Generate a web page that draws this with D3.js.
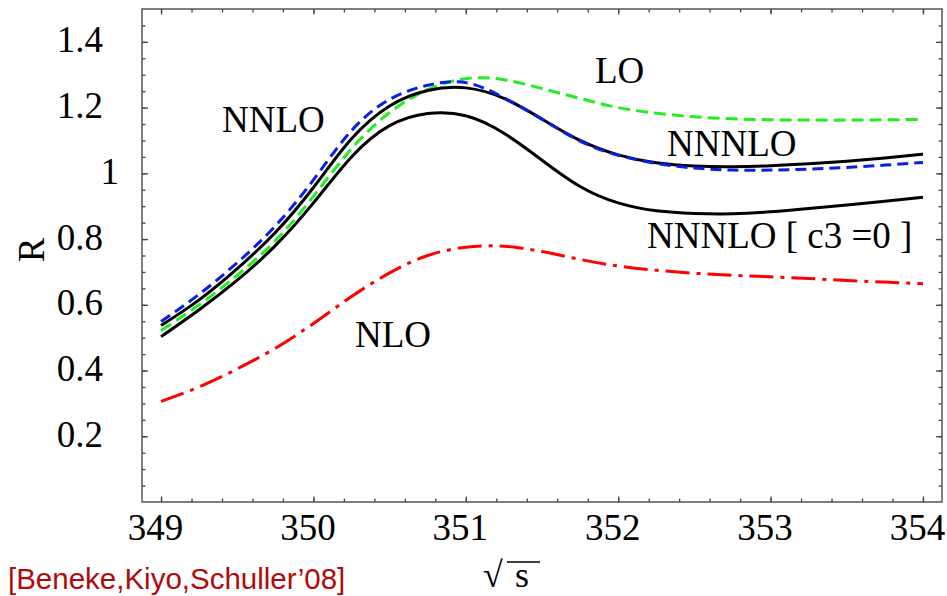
<!DOCTYPE html>
<html>
<head>
<meta charset="utf-8">
<script src="https://cdn.jsdelivr.net/npm/d3@7"></script>
<style>
  body { margin: 0; background: white; }
  svg { display: block; }
</style>
</head>
<body>
<svg id="chart" width="947" height="596"></svg>
<script>
// sqrt(s) grid and the R values
var sqrt_s = [349, 349.25, 349.5, 349.75, 350, 350.25, 350.5, 350.75, 351, 351.25, 351.5,
              351.75, 352, 352.25, 352.5, 352.75, 353, 353.25, 353.5, 353.75, 354];

var r_lo = [0.522, 0.6, 0.69, 0.795, 0.93, 1.075, 1.185, 1.255, 1.288, 1.285, 1.258,
            1.228, 1.2, 1.183, 1.172, 1.166, 1.163, 1.162, 1.162, 1.163, 1.164];
var r_nlo = [0.306, 0.35, 0.405, 0.468, 0.543, 0.625, 0.697, 0.75, 0.775, 0.778, 0.762,
             0.738, 0.718, 0.705, 0.696, 0.69, 0.685, 0.68, 0.674, 0.669, 0.664];
var r_nnlo = [0.549, 0.632, 0.728, 0.84, 0.98, 1.13, 1.225, 1.268, 1.276, 1.23, 1.165,
              1.098, 1.055, 1.03, 1.016, 1.01, 1.01, 1.013, 1.018, 1.025, 1.033];
var r_nnnlo = [0.537, 0.615, 0.71, 0.82, 0.957, 1.105, 1.205, 1.252, 1.26, 1.228, 1.165,
               1.1, 1.056, 1.032, 1.022, 1.02, 1.023, 1.029, 1.037, 1.047, 1.058];
var r_nnnlo_c3 = [0.503, 0.585, 0.675, 0.78, 0.91, 1.05, 1.145, 1.182, 1.175, 1.122, 1.04,
                  0.96, 0.91, 0.886, 0.878, 0.877, 0.883, 0.893, 0.904, 0.915, 0.927];

var x_major = [349, 350, 351, 352, 353, 354];
var y_major = [0.2, 0.4, 0.6, 0.8, 1, 1.2, 1.4];

var serif = "'Liberation Serif', 'Times New Roman', serif";

var svg = d3.select("#chart");

var x = d3.scaleLinear().domain([348.875, 354.125]).range([142, 942]);
var y = d3.scaleLinear().domain([0, 1.5]).range([502, 9]);

var x_minor = d3.range(349, 354.01, 0.2);
var y_minor = d3.range(0.05, 1.49, 0.05);

function styleAxis(g) {
  g.selectAll("path.domain").remove();
  g.selectAll("line").attr("stroke", "#444").attr("stroke-width", 1.3);
  g.selectAll("text")
    .style("font-family", serif)
    .style("font-size", "37px")
    .attr("fill", "black");
}

// bottom
svg.append("g").attr("transform", "translate(0,502)")
  .call(d3.axisBottom(x).tickValues(x_minor).tickSize(-3.5).tickFormat(""))
  .call(styleAxis);
svg.append("g").attr("transform", "translate(0,502)")
  .call(d3.axisBottom(x).tickValues(x_major).tickSize(-5.5).tickPadding(12).tickFormat(d3.format("d")))
  .call(styleAxis)
  .selectAll("text").attr("dx", -6);

// top
svg.append("g").attr("transform", "translate(0,9)")
  .call(d3.axisTop(x).tickValues(x_minor).tickSize(-3.5).tickFormat(""))
  .call(styleAxis);
svg.append("g").attr("transform", "translate(0,9)")
  .call(d3.axisTop(x).tickValues(x_major).tickSize(-5.5).tickFormat(""))
  .call(styleAxis);

// left
svg.append("g").attr("transform", "translate(142,0)")
  .call(d3.axisLeft(y).tickValues(y_minor).tickSize(-3.5).tickFormat(""))
  .call(styleAxis);
var left = svg.append("g").attr("transform", "translate(142,0)")
  .call(d3.axisLeft(y).tickValues(y_major).tickSize(-6).tickPadding(39)
    .tickFormat(function(d){ return d === 1 ? "1" : d3.format(".1f")(d); }))
  .call(styleAxis);
left.selectAll("text")
  .attr("dy", "0.27em")
  .attr("x", function(d){ return d === 1 ? -23 : -39; });

// right
svg.append("g").attr("transform", "translate(942,0)")
  .call(d3.axisRight(y).tickValues(y_minor).tickSize(-3.5).tickFormat(""))
  .call(styleAxis);
svg.append("g").attr("transform", "translate(942,0)")
  .call(d3.axisRight(y).tickValues(y_major).tickSize(-6).tickFormat(""))
  .call(styleAxis);

// frame
svg.append("rect")
  .attr("x", 142).attr("y", 9)
  .attr("width", 800).attr("height", 493)
  .attr("fill", "none")
  .attr("stroke", "#555")
  .attr("stroke-width", 1.5);

// curves
var curves = [
  {values: r_nlo, color: "#ff0000", dash: "24,7,4,7"},
  {values: r_lo, color: "#22ee22", dash: "12,6"},
  {values: r_nnnlo_c3, color: "black", dash: null},
  {values: r_nnnlo, color: "black", dash: null},
  {values: r_nnlo, color: "#0a1ee6", dash: "11,6"}
];

var line = d3.line()
  .x(function(d){ return x(d[0]); })
  .y(function(d){ return y(d[1]); })
  .curve(d3.curveNatural);

svg.append("g").attr("id", "curves")
  .selectAll("path")
  .data(curves)
  .enter()
  .append("path")
  .attr("d", function(d){
    return line(sqrt_s.map(function(s, i){ return [s, d.values[i]]; }));
  })
  .attr("fill", "none")
  .attr("stroke", function(d){ return d.color; })
  .attr("stroke-width", 3)
  .attr("stroke-dasharray", function(d){ return d.dash; });

// curve labels
var labels = [
  {text: "NNLO", x: 222, y: 132},
  {text: "LO", x: 595, y: 83},
  {text: "NNNLO", x: 667, y: 156},
  {text: "NNNLO [ c3 =0 ]", x: 647, y: 248},
  {text: "NLO", x: 355, y: 347}
];
svg.append("g").selectAll("text")
  .data(labels)
  .enter()
  .append("text")
  .attr("x", function(d){ return d.x; })
  .attr("y", function(d){ return d.y; })
  .text(function(d){ return d.text; })
  .style("font-family", serif)
  .style("font-size", "37px");

// axis titles
svg.append("text")
  .attr("transform", "translate(44,250) rotate(-90)")
  .attr("text-anchor", "middle")
  .style("font-family", serif)
  .style("font-size", "37px")
  .text("R");

svg.append("text")
  .attr("x", 483).attr("y", 587)
  .style("font-family", serif)
  .style("font-size", "36px")
  .text("\u221A");
svg.append("text")
  .attr("x", 515).attr("y", 587)
  .style("font-family", serif)
  .style("font-size", "36px")
  .text("s");
svg.append("line")
  .attr("x1", 507).attr("x2", 540)
  .attr("y1", 562).attr("y2", 562)
  .attr("stroke", "black").attr("stroke-width", 1.5);

// credit
svg.append("text")
  .attr("x", 8).attr("y", 589)
  .style("font-family", "'Liberation Sans', Arial, sans-serif")
  .style("font-size", "29.5px")
  .attr("fill", "#b00a0a")
  .text("[Beneke,Kiyo,Schuller\u201908]");
</script>
</body>
</html>
